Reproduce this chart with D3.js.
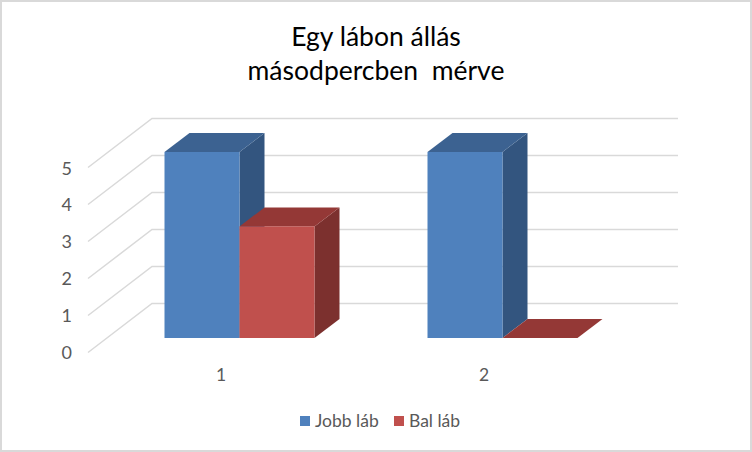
<!DOCTYPE html>
<html>
<head>
<meta charset="utf-8">
<script src="https://cdn.jsdelivr.net/npm/d3@7"></script>
<style>
  html, body { margin: 0; padding: 0; background: #fff; }
  svg { display: block; }
  text { font-family: Lato, "Open Sans", sans-serif; fill: #595959; }
</style>
</head>
<body>
<svg id="chart" width="752" height="452"></svg>
<script>
const titleLines = ['Egy lábon állás', 'másodpercben  mérve']
const categories = ['1', '2']
const seriesNames = ['Jobb láb', 'Bal láb']
const jobbLab = [5, 5]
const balLab = [3, 0]
const yTicks = [0, 1, 2, 3, 4, 5]

const colors = [
  { front: '#4f81bd', top: '#3c6291', side: '#33557f' },
  { front: '#c0504d', top: '#943836', side: '#7c302e' }
]

// fake 3D depth of the bars and of the floor
const depthX = 25
const depthY = 19
const wallDepthX = 64
const wallDepthY = 49

const svg = d3.select('#chart')

// window frame
svg.append('rect')
  .attr('x', 1).attr('y', 1)
  .attr('width', 750).attr('height', 450)
  .attr('fill', '#fff')
  .attr('stroke', '#d9d9d9')
  .attr('stroke-width', 2)

const x = d3.scaleBand().domain(categories).range([108, 634]).paddingInner(0).paddingOuter(0)
const xSub = d3.scaleBand().domain(seriesNames).range([0, 150])
const y = d3.scaleLinear().domain([0, 5]).range([338, 152])
const yWall = d3.scaleLinear().domain([0, 5]).range([303.5, 118.5])
const yLabel = d3.scaleLinear().domain([0, 5]).range([352, 168])

const wallLeft = 152
const wallRight = 678

// back wall gridlines and their slanted part on the side wall
const grid = svg.append('g').attr('fill', 'none').attr('stroke', '#d9d9d9').attr('stroke-width', 1.5)
grid.selectAll('path')
  .data(yTicks)
  .join('path')
  .attr('d', (d) => {
    const p = d3.path()
    p.moveTo(wallLeft - wallDepthX, yWall(d) + wallDepthY)
    p.lineTo(wallLeft, yWall(d))
    p.lineTo(wallRight, yWall(d))
    return p.toString()
  })

// y axis labels, on the front of the floor
const yAxis = svg.append('g')
  .attr('transform', 'translate(72,0)')
  .call(d3.axisLeft(yLabel).tickValues(yTicks).tickSize(0).tickPadding(0).tickFormat(d3.format('d')))
yAxis.select('.domain').remove()
yAxis.selectAll('text')
  .attr('font-size', 18)
  .attr('font-family', null)
  .style('fill', '#595959')
  .attr('dy', '0.34em')

// bars
const bars = categories.flatMap((c, i) => [
  { category: c, series: seriesNames[0], value: jobbLab[i], color: colors[0] },
  { category: c, series: seriesNames[1], value: balLab[i], color: colors[1] }
])
const barLeft = (d) => x(d.category) + (x.bandwidth() - xSub.range()[1]) / 2 + xSub(d.series)

const barGroups = svg.append('g').selectAll('g')
  .data(bars)
  .join('g')

barGroups.append('polygon')
  .attr('fill', (d) => d.color.side)
  .attr('points', (d) => {
    const r = barLeft(d) + xSub.bandwidth()
    return [[r, y(d.value)], [r + depthX, y(d.value) - depthY], [r + depthX, y(0) - depthY], [r, y(0)]].join(' ')
  })

barGroups.append('polygon')
  .attr('fill', (d) => d.color.top)
  .attr('points', (d) => {
    const l = barLeft(d)
    const r = l + xSub.bandwidth()
    return [[l, y(d.value)], [l + depthX, y(d.value) - depthY], [r + depthX, y(d.value) - depthY], [r, y(d.value)]].join(' ')
  })

barGroups.append('rect')
  .attr('fill', (d) => d.color.front)
  .attr('x', barLeft)
  .attr('y', (d) => y(d.value))
  .attr('width', xSub.bandwidth())
  .attr('height', (d) => y(0) - y(d.value))

// category labels sit left of the bar centre because of the perspective
svg.append('g').selectAll('text')
  .data(categories)
  .join('text')
  .attr('x', (d) => x(d) + x.bandwidth() / 2 - 18.5)
  .attr('y', 381)
  .attr('text-anchor', 'middle')
  .attr('font-size', 17.5)
  .text((d) => d)

// title
svg.append('g').selectAll('text')
  .data(titleLines)
  .join('text')
  .attr('x', 376)
  .attr('y', (d, i) => 46 + i * 34)
  .attr('text-anchor', 'middle')
  .attr('font-size', 26.5)
  .style('fill', '#000')
  .style('white-space', 'pre')
  .text((d) => d)

// legend
const legendX = [300, 394]
const legend = svg.append('g').selectAll('g')
  .data(seriesNames)
  .join('g')
  .attr('transform', (d, i) => 'translate(' + legendX[i] + ',416)')
legend.append('rect')
  .attr('width', 10)
  .attr('height', 10)
  .attr('fill', (d, i) => colors[i].front)
legend.append('text')
  .attr('x', 15)
  .attr('y', 11)
  .attr('font-size', 17.5)
  .text((d) => d)
</script>
</body>
</html>
